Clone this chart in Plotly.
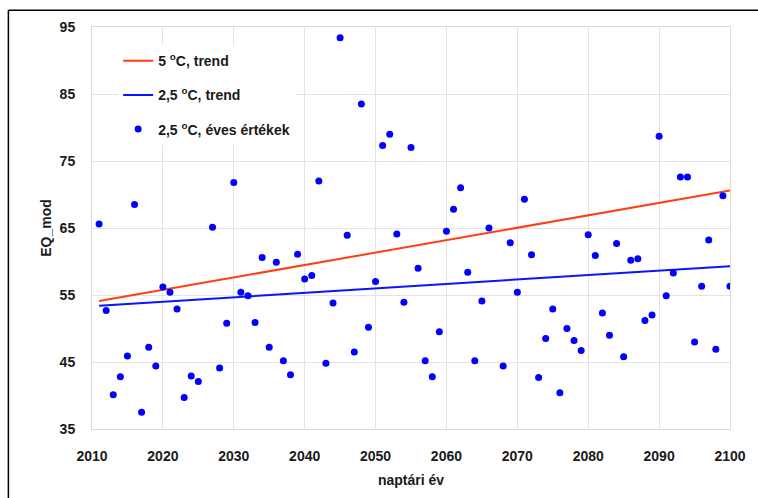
import plotly.graph_objects as go

# Annual EQ_mod values for the 2.5 °C scenario (calendar year -> value)
years = [2011, 2012, 2013, 2014, 2015, 2016, 2017, 2018, 2019, 2020,
         2021, 2022, 2023, 2024, 2025, 2027, 2028, 2029, 2030,
         2031, 2032, 2033, 2034, 2035, 2036, 2037, 2038, 2039, 2040,
         2041, 2042, 2043, 2044, 2045, 2046, 2047, 2048, 2049, 2050,
         2051, 2052, 2053, 2054, 2055, 2056, 2057, 2058, 2059, 2060,
         2061, 2062, 2063, 2064, 2065, 2066, 2068, 2069, 2070,
         2071, 2072, 2073, 2074, 2075, 2076, 2077, 2078, 2079, 2080,
         2081, 2082, 2083, 2084, 2085, 2086, 2087, 2088, 2089, 2090,
         2091, 2092, 2093, 2094, 2095, 2096, 2097, 2098, 2099, 2100]
eq_25 = [65.6, 52.7, 40.1, 42.8, 45.9, 68.5, 37.5, 47.2, 44.4, 56.2,
         55.4, 52.9, 39.7, 42.9, 42.1, 65.1, 44.1, 50.8, 71.8,
         55.4, 54.9, 50.9, 60.6, 47.2, 59.9, 45.2, 43.1, 61.1, 57.4,
         57.9, 72.0, 44.8, 53.8, 93.4, 63.9, 46.5, 83.5, 50.2, 57.0,
         77.3, 79.0, 64.1, 53.9, 77.0, 59.0, 45.2, 42.8, 49.5, 64.5,
         67.8, 71.0, 58.4, 45.2, 54.1, 65.0, 44.4, 62.8, 55.4,
         69.3, 61.0, 42.7, 48.5, 52.9, 40.4, 50.0, 48.2, 46.7, 64.0,
         60.9, 52.3, 49.0, 62.7, 45.8, 60.2, 60.4, 51.2, 52.0, 78.7,
         54.9, 58.3, 72.6, 72.6, 48.0, 56.3, 63.2, 46.9, 69.8, 56.3]

# Linear trend lines (start and end of the period)
trend_years = [2011, 2100]
trend_5 = [54.1, 70.6]
trend_25 = [53.4, 59.3]

x_ticks = [2010, 2020, 2030, 2040, 2050, 2060, 2070, 2080, 2090, 2100]
y_ticks = [35, 45, 55, 65, 75, 85, 95]

FONT = "Liberation Sans Narrow, Arial Narrow, Liberation Sans, Arial, sans-serif"
TXT = "#1a1a1a"

fig = go.Figure()
fig.add_trace(go.Scatter(
    x=trend_years, y=trend_5, mode="lines", name="5 <sup>o</sup>C, trend",
    line=dict(color="#ff3f12", width=2), legendgroup="a"))
fig.add_trace(go.Scatter(
    x=trend_years, y=trend_25, mode="lines", name="2,5 <sup>o</sup>C, trend",
    line=dict(color="#0a14ff", width=2), legendgroup="b"))
fig.add_trace(go.Scatter(
    x=years, y=eq_25, mode="markers", name="2,5 <sup>o</sup>C, éves értékek",
    marker=dict(color="#0000ff", size=7), legendgroup="c"))

fig.update_layout(
    width=758, height=498,
    margin=dict(l=92, r=25, t=27, b=64),
    paper_bgcolor="white", plot_bgcolor="white",
    font=dict(family=FONT, size=14, color=TXT, weight="bold"),
    legend=dict(
        x=0.041, y=0.955, xanchor="left", yanchor="top",
        bgcolor="white", borderwidth=0, tracegroupgap=13,
        font=dict(family=FONT, size=14, color=TXT, weight="bold"),
    ),
    xaxis=dict(
        range=[2010, 2100], tickvals=x_ticks, ticktext=[str(v) for v in x_ticks],
        showgrid=True, gridcolor="#e3e3e3", gridwidth=1,
        showline=True, linecolor="#d9d9d9", linewidth=1, mirror=True,
        zeroline=False, ticks="", ticklabelstandoff=14,
        title=dict(text="naptári év", standoff=12,
                   font=dict(family=FONT, size=14, color=TXT, weight="bold")),
        automargin=True,
    ),
    yaxis=dict(
        range=[35, 95], tickvals=y_ticks, ticktext=[str(v) for v in y_ticks],
        showgrid=True, gridcolor="#e3e3e3", gridwidth=1,
        showline=True, linecolor="#d9d9d9", linewidth=1, mirror=True,
        zeroline=False, ticks="", ticklabelstandoff=13,
        title=dict(text="EQ_mod", standoff=4,
                   font=dict(family=FONT, size=14, color=TXT, weight="bold")),
        automargin=True,
    ),
)

# Outer frame: left and top edges of the chart box
plot_w = 758 - 92 - 25
plot_h = 498 - 27 - 64
fx = (8 - 92) / plot_w
fy = 1 + (27 - 10) / plot_h
fig.add_shape(type="line", xref="paper", yref="paper",
              x0=fx, y0=fy, x1=fx, y1=-0.2, line=dict(color="black", width=1.5))
fig.add_shape(type="line", xref="paper", yref="paper",
              x0=fx, y0=fy, x1=1.1, y1=fy, line=dict(color="black", width=1.5))

fig.write_html("out.html")
